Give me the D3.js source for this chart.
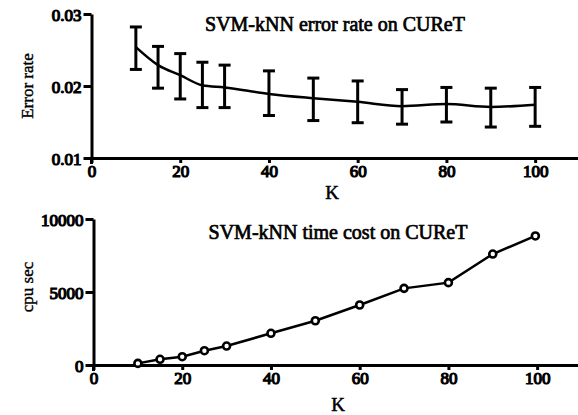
<!DOCTYPE html>
<html>
<head>
<meta charset="utf-8">
<script src="https://cdn.jsdelivr.net/npm/d3@7"></script>
<style>
  html, body { margin: 0; padding: 0; background: #fff; }
  svg { display: block; }
</style>
</head>
<body>
<svg id="chart" width="578" height="415"></svg>
<script>
// K values shared by both panels
const kValues = [10, 15, 20, 25, 30, 40, 50, 60, 70, 80, 90, 100];

// Error rate panel: mean and error-bar bounds
const errorMean  = [0.0254, 0.0229, 0.0215, 0.0201, 0.0198, 0.0189, 0.0183, 0.0178, 0.0172, 0.0175, 0.0171, 0.0174];
const errorUpper = [0.0282, 0.0255, 0.0245, 0.0233, 0.0229, 0.0221, 0.0211, 0.0207, 0.0195, 0.0198, 0.0197, 0.0198];
const errorLower = [0.0223, 0.0197, 0.0182, 0.0170, 0.0170, 0.0159, 0.0152, 0.0149, 0.0147, 0.0150, 0.0143, 0.0144];

// Time cost panel
const cpuK    = [10, 15, 20, 25, 30, 40, 50, 60, 70, 80, 90, 99.6];
const cpuTime = [110, 390, 570, 980, 1300, 2170, 3030, 4110, 5250, 5640, 7600, 8840];

// Tick labels
const xTicks = [0, 20, 40, 60, 80, 100];
const errorTicks = [0.01, 0.02, 0.03];
const cpuTicks = [0, 5000, 10000];

const SERIF = "'Liberation Serif', 'Times New Roman', Times, serif";
const svg = d3.select("#chart");

function styleAxis(g) {
  g.attr("font-family", SERIF);
  g.select(".domain").attr("stroke", "#000").attr("stroke-width", 3);
  g.selectAll(".tick line").attr("stroke", "#000").attr("stroke-width", 3);
  g.selectAll(".tick text")
    .attr("font-family", SERIF)
    .attr("font-size", 17)
    .attr("fill", "#000")
    .attr("stroke", "#000")
    .attr("stroke-width", 1.2);
}

function panel(opts) {
  const x = d3.scaleLinear().domain([0, 110]).range([opts.x0, opts.x0 + 488]);
  const y = d3.scaleLinear().domain(opts.yDomain).range([opts.yBottom, opts.yTop]);

  const g = svg.append("g").attr("font-family", SERIF);

  // x axis
  g.append("g")
    .attr("transform", `translate(0,${opts.yBottom})`)
    .call(d3.axisBottom(x).tickValues(xTicks).tickSize(5).tickSizeOuter(0).tickPadding(2))
    .call(styleAxis);

  // y axis
  g.append("g")
    .attr("transform", `translate(${opts.x0},0)`)
    .call(d3.axisLeft(y).tickValues(opts.yTicks).tickFormat(opts.yFormat).tickSize(8).tickSizeOuter(0).tickPadding(2))
    .call(styleAxis)
    .call(a => a.selectAll(".tick text").attr("dy", "0.36em"));

  // downward stub of the y axis below the origin
  g.append("line")
    .attr("x1", opts.x0).attr("x2", opts.x0)
    .attr("y1", opts.yBottom).attr("y2", opts.yBottom + 6)
    .attr("stroke", "#000").attr("stroke-width", 3);

  // title
  g.append("text")
    .attr("x", opts.titleX).attr("y", opts.titleY)
    .attr("text-anchor", "middle")
    .attr("font-family", SERIF)
    .attr("font-size", 20)
    .attr("stroke", "#000").attr("stroke-width", 0.7)
    .text(opts.title);

  // x label
  g.append("text")
    .attr("x", opts.kX).attr("y", opts.kY)
    .attr("text-anchor", "middle")
    .attr("font-family", SERIF)
    .attr("font-size", 19)
    .attr("stroke", "#000").attr("stroke-width", 0.5)
    .text("K");

  // y label
  g.append("text")
    .attr("transform", `translate(${opts.yLabelX},${opts.yLabelY}) rotate(-90)`)
    .attr("text-anchor", "middle")
    .attr("font-family", SERIF)
    .attr("font-size", 17)
    .attr("stroke", "#000").attr("stroke-width", 0.4)
    .text(opts.yLabel);

  return { g, x, y };
}

// --- Upper panel: error rate ---
const errPanel = panel({
  x0: 91.5, yTop: 14, yBottom: 158, yDomain: [0.01, 0.03],
  yTicks: errorTicks, yFormat: d3.format(".2f"),
  title: "SVM-kNN error rate on CUReT", titleX: 335, titleY: 31,
  kX: 332, kY: 199, yLabel: "Error rate", yLabelX: 33, yLabelY: 86
});

const errData = kValues.map((k, i) => ({ k, m: errorMean[i], hi: errorUpper[i], lo: errorLower[i] }));

errPanel.g.append("path")
  .datum(errData)
  .attr("fill", "none")
  .attr("stroke", "#000")
  .attr("stroke-width", 2.5)
  .attr("d", d3.line().x(d => errPanel.x(d.k)).y(d => errPanel.y(d.m)).curve(d3.curveMonotoneX));

const bars = errPanel.g.append("g").attr("stroke", "#000").attr("stroke-width", 3);
bars.selectAll("line.v").data(errData).join("line").attr("class", "v")
  .attr("x1", d => errPanel.x(d.k)).attr("x2", d => errPanel.x(d.k))
  .attr("y1", d => errPanel.y(d.hi)).attr("y2", d => errPanel.y(d.lo));
bars.selectAll("line.hi").data(errData).join("line").attr("class", "hi")
  .attr("x1", d => errPanel.x(d.k) - 6).attr("x2", d => errPanel.x(d.k) + 6)
  .attr("y1", d => errPanel.y(d.hi)).attr("y2", d => errPanel.y(d.hi));
bars.selectAll("line.lo").data(errData).join("line").attr("class", "lo")
  .attr("x1", d => errPanel.x(d.k) - 6).attr("x2", d => errPanel.x(d.k) + 6)
  .attr("y1", d => errPanel.y(d.lo)).attr("y2", d => errPanel.y(d.lo));

// --- Lower panel: time cost ---
const cpuPanel = panel({
  x0: 93.5, yTop: 219, yBottom: 365, yDomain: [0, 10000],
  yTicks: cpuTicks, yFormat: d3.format("d"),
  title: "SVM-kNN time cost on CUReT", titleX: 338, titleY: 239,
  kX: 338, kY: 411, yLabel: "cpu sec", yLabelX: 33, yLabelY: 287
});

const cpuData = cpuK.map((k, i) => ({ k, v: cpuTime[i] }));

cpuPanel.g.append("path")
  .datum(cpuData)
  .attr("fill", "none")
  .attr("stroke", "#000")
  .attr("stroke-width", 2.5)
  .attr("d", d3.line().x(d => cpuPanel.x(d.k)).y(d => cpuPanel.y(d.v)));

cpuPanel.g.selectAll("circle").data(cpuData).join("circle")
  .attr("cx", d => cpuPanel.x(d.k)).attr("cy", d => cpuPanel.y(d.v))
  .attr("r", 3.5)
  .attr("fill", "#fff")
  .attr("stroke", "#000")
  .attr("stroke-width", 2.6);
</script>
</body>
</html>
